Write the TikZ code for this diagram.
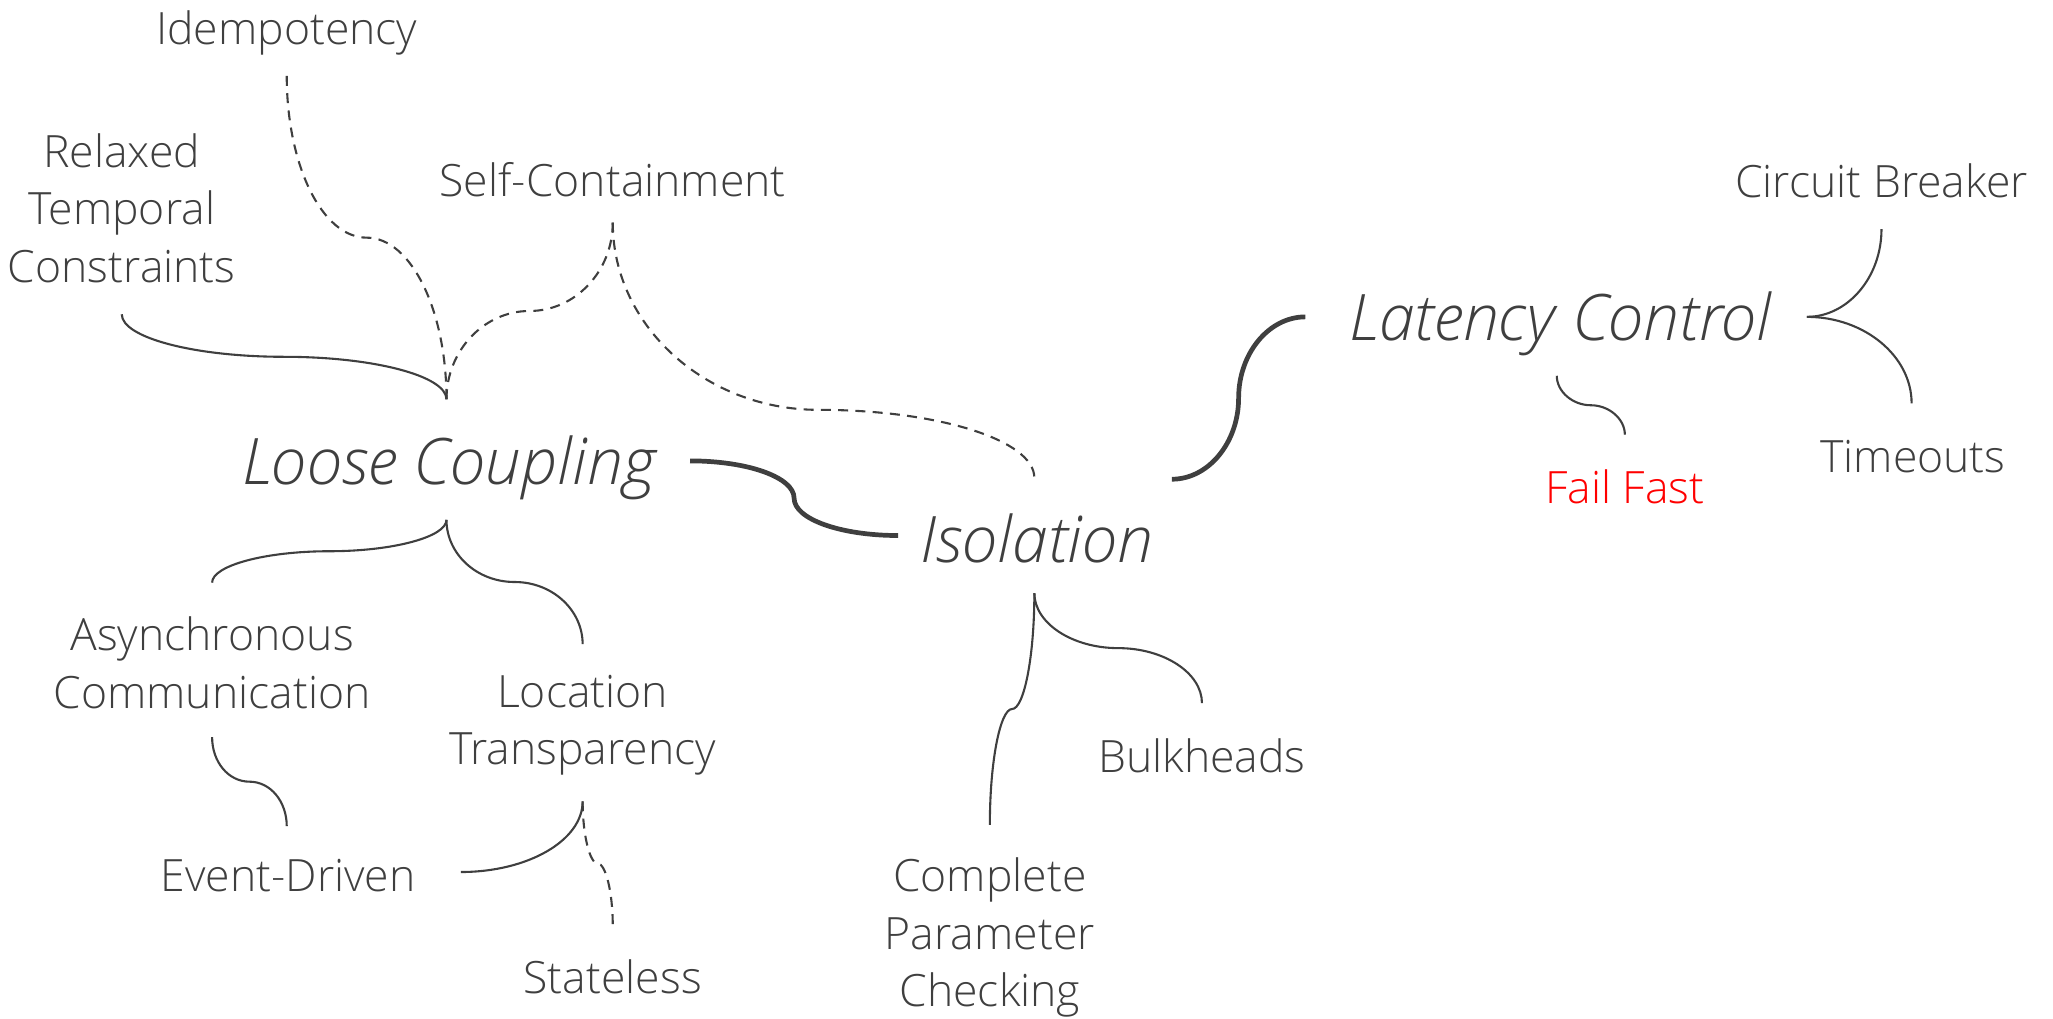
\documentclass[tikz,border=0pt]{standalone}
\usepackage{fontspec}
\setmainfont{Open Sans Light}[ItalicFont={Open Sans Light Italic}]
\usetikzlibrary{calc}
\definecolor{ink}{HTML}{3F3F3F}
\definecolor{alert}{HTML}{FF0000}
\begin{document}
\begin{tikzpicture}[x=0.5pt,y=0.5pt,
  lbl/.style={font=\fontsize{17}{22}\selectfont, text=ink, align=center, inner sep=0pt},
  hub/.style={font=\fontsize{24.5}{29}\selectfont\itshape, text=ink, inner sep=0pt},
  link/.style={draw=ink, line width=0.8pt},
  dlink/.style={link, dash pattern=on 3.8pt off 2.8pt},
  trunk/.style={draw=ink, line width=1.8pt}]
\useasboundingbox (0,0) rectangle (1568,-778);

% hubs
\node[hub] (loose) at (343,-357) {Loose Coupling};
\node[hub] (iso)   at (792,-411) {Isolation};
\node[hub] (lat)   at (1192,-247) {Latency Control};

% leaves
\node[lbl] (idem)    at (219,-25)  {Idempotency};
\node[lbl] (relaxed) at (93,-159)  {Relaxed\\Temporal\\Constraints};
\node[lbl] (self)    at (468,-137) {Self-Containment};
\node[lbl] (cb)      at (1437,-138) {Circuit Breaker};
\node[lbl] (tmo)     at (1461,-349) {Timeouts};
\node[lbl, text=alert] (ff) at (1241,-372) {Fail Fast};
\node[lbl] (async)   at (162,-506) {Asynchronous\\Communication};
\node[lbl] (loc)     at (445,-554) {Location\\Transparency};
\node[lbl] (ev)      at (220,-669) {Event-Driven};
\node[lbl] (stl)     at (468,-746) {Stateless};
\node[lbl] (cpc)     at (756,-716) {Complete\\Parameter\\Checking};
\node[lbl] (bulk)    at (918,-577) {Bulkheads};

% connector ends
\coordinate (i1)   at ($(idem)+(0,-33)$);
\coordinate (r1)   at ($(relaxed)+(0,-81)$);
\coordinate (s1)   at ($(self)+(0,-33)$);
\coordinate (lN)   at ($(loose)+(-2,52)$);
\coordinate (lE)   at ($(loose)+(184,5)$);
\coordinate (lS)   at ($(loose)+(-2,-40)$);
\coordinate (iN)   at ($(iso)+(-2,46)$);
\coordinate (iW)   at ($(iso)+(-106,2)$);
\coordinate (iE)   at ($(iso)+(103,45)$);
\coordinate (iS)   at ($(iso)+(-2,-42)$);
\coordinate (latW) at ($(lat)+(-195,5)$);
\coordinate (latE) at ($(lat)+(188,5)$);
\coordinate (latS) at ($(lat)+(-3,-40)$);
\coordinate (cbS)  at ($(cb)+(0,-37)$);
\coordinate (tN)   at ($(tmo)+(-1,41)$);
\coordinate (ffN)  at ($(ff)+(0,40)$);
\coordinate (aN)   at ($(async)+(0,61)$);
\coordinate (aS)   at ($(async)+(0,-57)$);
\coordinate (locN) at ($(loc)+(0,62)$);
\coordinate (locS) at ($(loc)+(0,-58)$);
\coordinate (evE)  at ($(ev)+(132,3)$);
\coordinate (evN)  at ($(ev)+(-1,38)$);
\coordinate (stN)  at ($(stl)+(0,39)$);
\coordinate (cpN)  at ($(cpc)+(0,86)$);
\coordinate (bkN)  at ($(bulk)+(0,40)$);
\coordinate (sBend) at (625,-313);

% Loose Coupling branch
\draw[link]  (r1) .. controls +(0,-18) and +(-68,0) .. ($(r1)!.5!(lN)$) .. controls +(68,0) and +(0,18) .. (lN);
\draw[dlink] (i1) .. controls +(0,-68) and +(-34,0) .. ($(i1)!.5!(lN)$) .. controls +(34,0) and +(0,68) .. (lN);
\draw[dlink] (s1) .. controls +(0,-37) and +(35,0) .. ($(s1)!.5!(lN)$) .. controls +(-35,0) and +(0,37) .. (lN);
\draw[dlink] (s1) .. controls +(0,-79) and +(-86,0) .. (sBend) .. controls +(91,0) and +(0,29) .. (iN);
\draw[link]  (lS) .. controls +(0,-13) and +(49,0) .. ($(lS)!.5!(aN)$) .. controls +(-49,0) and +(0,13) .. (aN);
\draw[link]  (lS) .. controls +(0,-26) and +(-29,0) .. ($(lS)!.5!(locN)$) .. controls +(29,0) and +(0,26) .. (locN);
\draw[link]  (aS) .. controls +(0,-19) and +(-16,0) .. ($(aS)!.5!(evN)$) .. controls +(16,0) and +(0,19) .. (evN);
\draw[link]  (locS) .. controls +(0,-30) and +(51,0) .. (evE);
\draw[dlink] (locS) .. controls +(0,-26) and +(-6,0) .. ($(locS)!.5!(stN)$) .. controls +(6,0) and +(0,26) .. (stN);

% trunk
\draw[trunk] (lE) .. controls +(44,0) and +(0,16) .. ($(lE)!.5!(iW)$) .. controls +(0,-16) and +(-44,0) .. (iW);
\draw[trunk] (iE) .. controls +(28,0) and +(0,-34) .. ($(iE)!.5!(latW)$) .. controls +(0,34) and +(-28,0) .. (latW);

% Isolation branch
\draw[link] (iS) .. controls +(0,-23) and +(-35,0) .. ($(iS)!.5!(bkN)$) .. controls +(35,0) and +(0,23) .. (bkN);
\draw[link] (iS) .. controls +(0,-49) and +(9,0) .. ($(iS)!.5!(cpN)$) .. controls +(-9,0) and +(0,49) .. (cpN);

% Latency Control branch
\draw[link] (latE) .. controls +(31,0) and +(0,-37) .. (cbS);
\draw[link] (latE) .. controls +(44,0) and +(0,36) .. (tN);
\draw[link] (latS) .. controls +(0,-12) and +(-14,0) .. ($(latS)!.5!(ffN)$) .. controls +(14,0) and +(0,12) .. (ffN);
\end{tikzpicture}
\end{document}
